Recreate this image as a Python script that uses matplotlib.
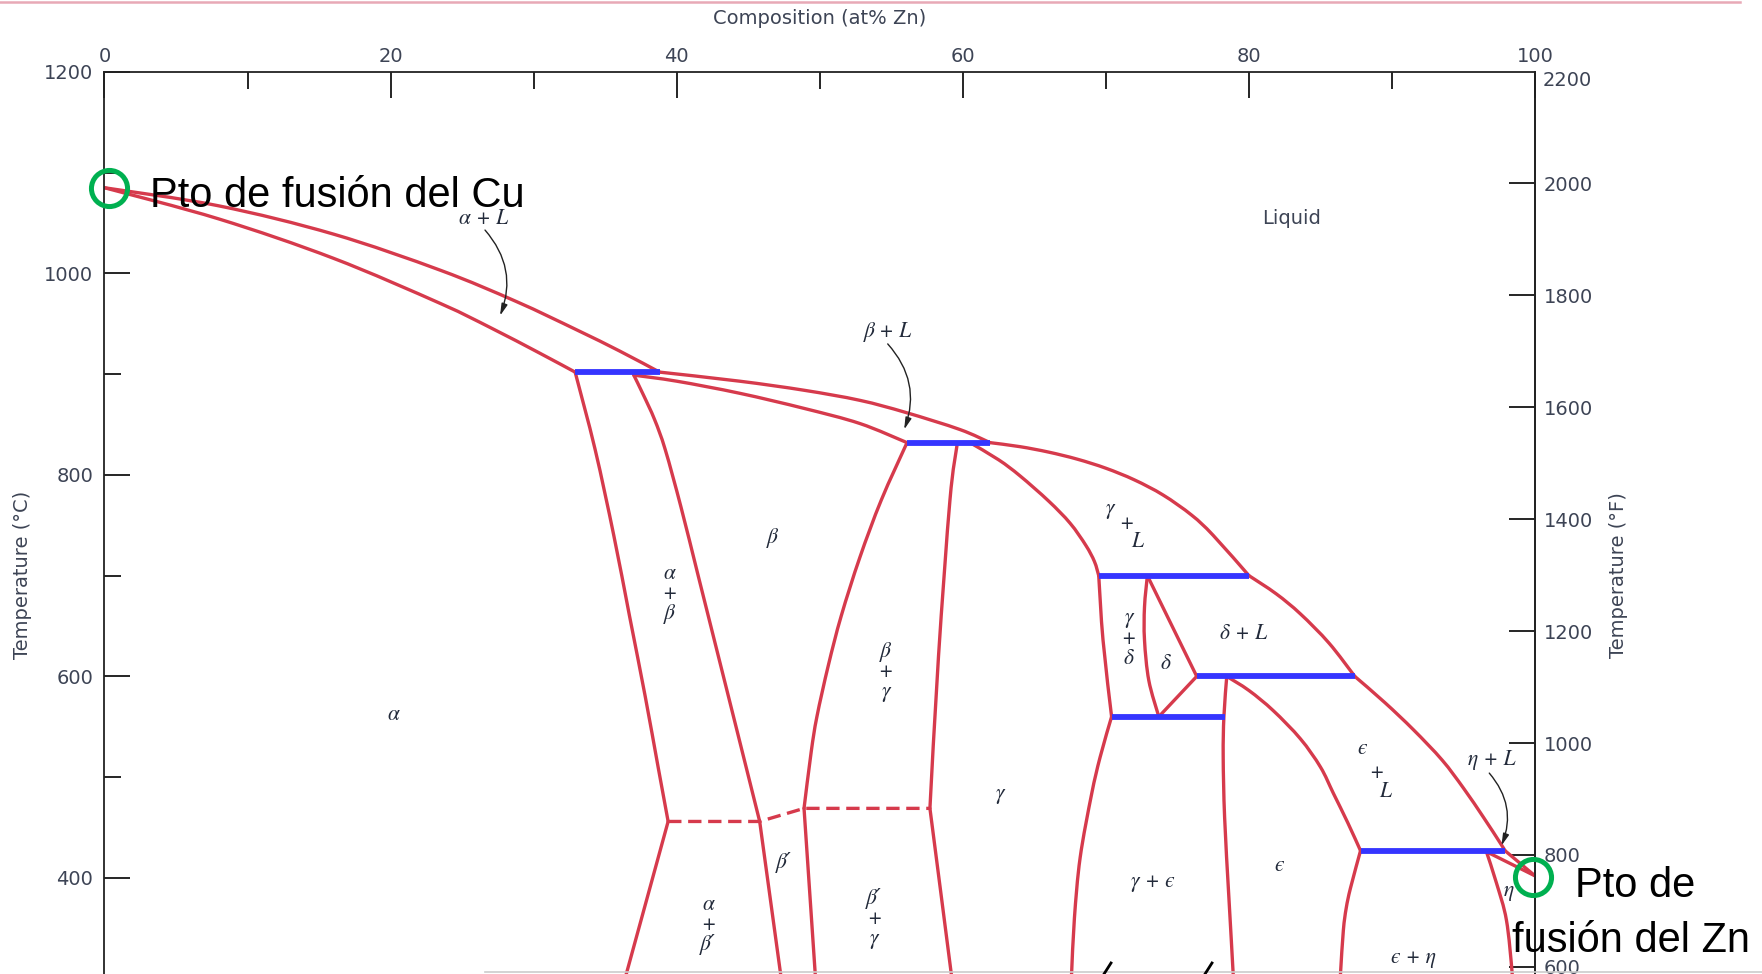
import matplotlib
matplotlib.use('Agg')
import matplotlib.pyplot as plt
from matplotlib.lines import Line2D
from matplotlib.path import Path
from matplotlib.patches import PathPatch
import numpy as np

# Cu-Zn phase boundaries as (at% Zn, temperature °C)
liq_alpha = [(0.0, 1085), (8, 1067), (16, 1039), (23.5, 1003), (28.8, 972), (33.0, 944), (36.0, 923), (38.8, 902)]
sol_alpha = [(0.0, 1085), (8, 1054), (16, 1015), (23.5, 970), (27.0, 946), (30.4, 921), (32.9, 902)]
liq_beta = [(38.8, 902), (44.4, 893), (48.9, 884), (52.8, 874), (56.0, 862), (59.8, 845), (61.9, 832)]
sol_beta = [(37.0, 899), (40.0, 893), (44.4, 881), (48.9, 866), (52.8, 851), (56.1, 832)]
alpha_ab = [(32.9, 902), (34.3, 825), (35.6, 740), (36.7, 660), (37.8, 580), (38.7, 510), (39.4, 456)]
alpha_abp = [(39.4, 456), (36.0, 280)]
beta_ab = [(37.0, 899), (37.65, 880), (38.45, 855), (39.2, 825), (40.3, 768), (41.5, 700), (42.7, 632),
           (44.2, 547), (45.8, 456)]
betap_abp = [(45.8, 456), (47.5, 280)]
beta_bg = [(56.1, 832), (54.3, 775), (52.8, 718), (51.5, 660), (50.6, 611), (49.8, 560), (49.4, 525), (48.9, 469)]
betap_bg = [(48.9, 469), (49.8, 280)]
gamma_bg = [(59.6, 830), (59.1, 775), (58.3, 620), (57.7, 469)]
gamma_bgp = [(57.7, 469), (59.2, 304), (59.4, 280)]
sol_gamma = [(60.5, 832), (62.5, 815), (64.0, 799), (66.0, 774), (67.5, 752), (68.6, 730), (69.2, 714), (69.5, 700)]
liq_gamma = [(61.9, 832), (64.0, 828), (66.0, 822.6), (68.0, 815.6), (70.0, 806.6), (72.0, 795), (74.0, 780),
             (76.0, 760), (77.5, 740), (80.0, 700)]
gamma_gd = [(69.5, 700), (69.8, 636), (70.4, 560)]
gamma_ge = [(70.4, 560), (69.6, 520), (69.0, 483), (68.2, 420), (67.8, 360), (67.6, 304), (67.5, 280)]
delta_left = [(72.9, 700), (72.7, 669), (72.7, 636), (73.0, 596), (73.7, 560)]
delta_top = [(72.9, 700), (76.35, 600)]
delta_bot = [(76.35, 600), (73.7, 560)]
liq_delta = [(80.0, 700), (81.9, 682), (83.6, 662), (85.6, 633), (87.4, 600)]
eps_left = [(78.45, 600), (78.25, 560), (78.2, 520), (78.3, 460), (78.6, 380), (78.9, 304), (78.95, 280)]
sol_eps = [(78.45, 600), (80.0, 586), (81.7, 566), (83.6, 538), (85.0, 510), (85.9, 484), (86.9, 455), (87.8, 427)]
eps_right = [(87.8, 427), (87.1, 390), (86.8, 370), (86.6, 348), (86.4, 305), (86.3, 280)]
liq_eps = [(87.4, 600), (89.5, 574), (91.5, 547), (93.5, 517), (95.0, 489), (96.4, 460), (97.55, 435), (97.9, 427)]
liq_eta = [(97.9, 427), (100.0, 402)]
sol_eta = [(96.6, 426), (100.0, 402)]
eta_left = [(96.6, 426), (97.3, 395), (98.0, 358), (98.4, 305), (98.45, 280)]
solid_lines = [liq_alpha, sol_alpha, liq_beta, sol_beta, alpha_ab, alpha_abp, beta_ab, betap_abp,
               beta_bg, betap_bg, gamma_bg, gamma_bgp, sol_gamma, liq_gamma, gamma_gd, gamma_ge,
               delta_left, delta_top, delta_bot, liq_delta, eps_left, sol_eps, eps_right, liq_eps,
               liq_eta, sol_eta, eta_left]

# beta -> beta' ordering transition
order_line = [(39.4, 456), (45.8, 456), (48.9, 469), (57.7, 469)]

# invariant reactions
inv_T = [902, 832, 700, 600, 560, 427]
inv_x0 = [32.9, 56.1, 69.5, 76.35, 70.4, 87.8]
inv_x1 = [38.8, 61.9, 80.0, 87.4, 78.3, 97.9]

# phase field labels
phase_labels = [
    ('α + L', 26.5, 1054), ('β + L', 54.75, 942), ('β', 46.7, 738), ('α\n+\nβ', 39.5, 682),
    ('α', 20.2, 562), ('β\n+\nγ', 54.6, 605), ('γ', 70.3, 767), ('+', 71.4, 752), ('L', 72.2, 734),
    ('γ\n+\nδ', 71.6, 638), ('δ', 74.15, 613), ('δ + L', 79.65, 643), ('γ', 62.6, 484),
    ('β′', 47.5, 415), ('α\n+\nβ′', 42.2, 354), ('β′\n+\nγ', 53.8, 360), ('γ + ϵ', 73.3, 396),
    ('ϵ', 82.1, 412), ('ϵ', 87.9, 528), ('+', 88.9, 505), ('L', 89.5, 486),
    ('η + L', 97.0, 517), ('η', 98.2, 387), ('ϵ + η', 91.5, 321),
]
arrows = [(26.6, 1043, 27.65, 958), (54.75, 930, 55.9, 845), (96.8, 504, 97.65, 432)]

x_ticks = [0, 20, 40, 60, 80, 100]
c_ticks = [400, 600, 800, 1000, 1200]
f_ticks = [600, 800, 1000, 1200, 1400, 1600, 1800, 2000]
cu_melt = (0.32, 1084.5)
zn_melt = (99.88, 400.5)

RED = '#d63a4c'
BLUE = '#3535ff'
TXT = '#3d4455'
LBL = '#222a3a'


def smooth_path(pts):
    """Cubic Bezier path passing through the given points (Catmull-Rom tangents)."""
    p = np.asarray(pts, dtype=float)
    if len(p) < 3:
        return Path(p)
    ext = np.vstack([p[0], p, p[-1]])
    verts = [p[0]]
    codes = [Path.MOVETO]
    for i in range(1, len(ext) - 2):
        c1 = ext[i] + (ext[i + 1] - ext[i - 1]) / 6
        c2 = ext[i + 1] - (ext[i + 2] - ext[i]) / 6
        verts += [c1, c2, ext[i + 1]]
        codes += [Path.CURVE4] * 3
    return Path(verts, codes)


# °F scale on the right sits a few degrees lower than the exact conversion
def c2f(c):
    return (c + 3.9) * 9 / 5 + 32


def f2c(f):
    return (f - 32) * 5 / 9 - 3.9


fig = plt.figure(figsize=(17.62, 9.74), dpi=100)
ax = fig.add_axes([0.0593, -0.1082, 0.8119, 1.0344])
ax.set_xlim(0, 100)
ax.set_ylim(200, 1200)

for seg in solid_lines:
    ax.add_patch(PathPatch(smooth_path(seg), fill=False, edgecolor=RED, lw=2.4,
                           capstyle='round', joinstyle='round', zorder=2))
xs, ts = zip(*order_line)
ax.plot(xs, ts, color=RED, lw=2.4, ls=(0, (4, 2)), zorder=2)
for t, a, b in zip(inv_T, inv_x0, inv_x1):
    ax.plot([a, b], [t, t], color=BLUE, lw=4.2, solid_capstyle='butt', zorder=3)

for s, x, t in phase_labels:
    ax.text(x, t, s, ha='center', va='center', family=['STIXGeneral', 'DejaVu Serif'], style='italic',
            fontsize=15.5, color=LBL, linespacing=0.95, zorder=4)
for x0, t0, x1, t1 in arrows:
    ax.annotate('', xy=(x1, t1), xytext=(x0, t0),
                arrowprops=dict(arrowstyle='-|>,head_length=0.7,head_width=0.18', color='#222222',
                                lw=1.0, connectionstyle='arc3,rad=-0.3', shrinkA=0, shrinkB=0))

ax.text(83.0, 1054, 'Liquid', ha='center', va='center', fontsize=14, color=TXT)

# axes styling: ticks inward, labels on top, left and right
for side in ['top', 'left', 'right']:
    ax.spines[side].set_linewidth(1.3)
    ax.spines[side].set_color('#222222')
ax.spines['bottom'].set_visible(False)
ax.set_xticks(x_ticks)
ax.set_xticks([10, 30, 50, 70, 90], minor=True)
ax.set_yticks(c_ticks)
ax.set_yticks([300, 500, 700, 900, 1100], minor=True)
ax.tick_params(axis='x', which='both', top=True, bottom=False, labeltop=True, labelbottom=False,
               direction='in', width=1.2, pad=4, labelsize=14, labelcolor=TXT)
ax.tick_params(axis='y', which='both', left=True, right=False, direction='in', width=1.2,
               pad=8, labelsize=14, labelcolor=TXT)
ax.tick_params(which='major', length=19)
ax.tick_params(which='minor', length=12)

sec = ax.secondary_yaxis('right', functions=(c2f, f2c))
sec.set_yticks(f_ticks)
sec.tick_params(direction='in', length=19, width=1.2, pad=6, labelsize=14, labelcolor=TXT)
sec.spines['right'].set_linewidth(1.3)
sec.spines['right'].set_color('#222222')
fig.text(1543 / 1762, 1 - 81 / 974, '2200', ha='left', va='center', fontsize=14, color=TXT)

fig.text(0.4652, 0.9815, 'Composition (at% Zn)', ha='center', va='center', fontsize=14, color=TXT)
fig.text(22.5 / 1762, 1 - 575 / 974, 'Temperature (°C)', rotation=90, ha='center', va='center',
         fontsize=14, color=TXT)
fig.text(1618 / 1762, 1 - 575 / 974, 'Temperature (°F)', rotation=90, ha='center', va='center',
         fontsize=14, color=TXT)

# melting points of the pure metals
for mx, mt in [cu_melt, zn_melt]:
    ax.plot(mx, mt, 'o', ms=26, mfc='none', mec='#00b050', mew=3.6, clip_on=False, zorder=6)
fig.text(150 / 1762, 1 - 206.7 / 974, 'Pto de fusión del Cu', ha='left', va='baseline',
         family='Liberation Sans', fontsize=30, color='black', zorder=7)
fig.text(1575 / 1762, 1 - 896.7 / 974, 'Pto de', ha='left', va='baseline',
         family='Liberation Sans', fontsize=30, color='black', zorder=7)
fig.text(1511.7 / 1762, 1 - 951.7 / 974, 'fusión del Zn', ha='left', va='baseline',
         family='Liberation Sans', fontsize=30, color='black', zorder=7)

# slide edges
fig.add_artist(Line2D([0, 1740 / 1762], [1 - 1.5 / 974] * 2, transform=fig.transFigure,
                      color='#e8a9b6', lw=1.8))
fig.add_artist(Line2D([485 / 1762, 1], [1 - 972 / 974] * 2, transform=fig.transFigure,
                      color='#cccccc', lw=1.2))
for px in [1107, 1208]:
    fig.add_artist(Line2D([(px - 3) / 1762, (px + 4) / 1762], [0.0, 1 - 963 / 974],
                          transform=fig.transFigure, color='black', lw=2))

fig.savefig('out.png', dpi=100)
plt.close(fig)
